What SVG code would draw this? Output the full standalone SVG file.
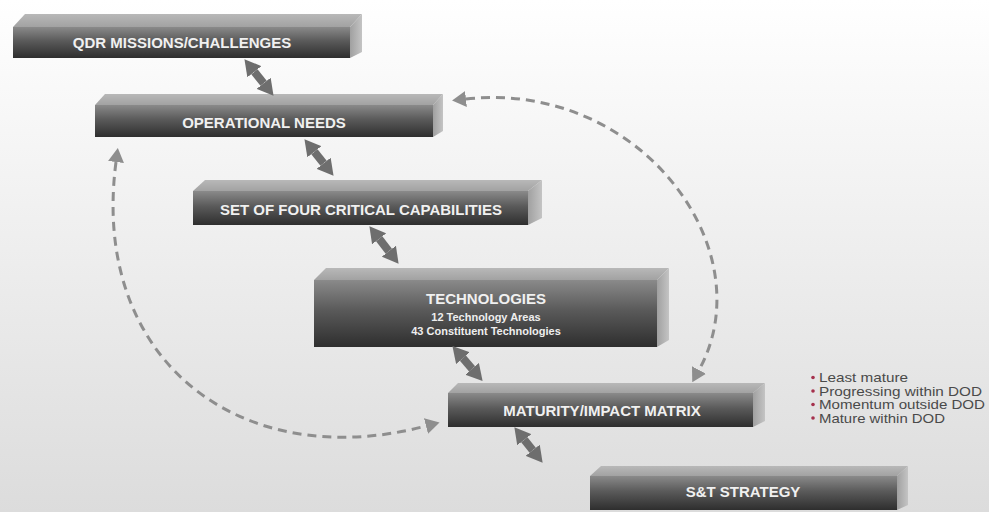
<svg xmlns="http://www.w3.org/2000/svg" width="989" height="512" viewBox="0 0 989 512">
<style>
.front{fill:url(#gFront)}
.top{fill:url(#gTop)}
.side{fill:url(#gSide)}
.lbl{font-family:"Liberation Sans",Arial,sans-serif;font-weight:bold;font-size:15px;fill:#f0f0f0;text-anchor:middle}
.sub{font-family:"Liberation Sans",Arial,sans-serif;font-weight:bold;font-size:11px;fill:#eeeeee;text-anchor:middle}
.bul{font-family:"Liberation Sans",Arial,sans-serif;font-size:13px;fill:#4a4a4a}
.dot{fill:#a5304c}
.dbl{stroke:#6e6e6e;stroke-width:8;fill:none}
.dash{stroke:#8e8e8e;stroke-width:3;fill:none;stroke-dasharray:9 6}
</style>
<defs>
<linearGradient id="bg" x1="0" y1="0" x2="0" y2="1">
<stop offset="0" stop-color="#ffffff"/>
<stop offset="1" stop-color="#dcdcdc"/>
</linearGradient>
<linearGradient id="gFront" x1="0" y1="0" x2="0" y2="1">
<stop offset="0" stop-color="#8a8a8a"/>
<stop offset="0.45" stop-color="#5a5a5a"/>
<stop offset="1" stop-color="#2e2e2e"/>
</linearGradient>
<linearGradient id="gTop" x1="0" y1="0" x2="0" y2="1">
<stop offset="0" stop-color="#b8b8b8"/>
<stop offset="1" stop-color="#a2a2a2"/>
</linearGradient>
<linearGradient id="gSide" x1="0" y1="0" x2="1" y2="0">
<stop offset="0" stop-color="#a0a0a0"/>
<stop offset="1" stop-color="#c4c4c4"/>
</linearGradient>
<marker id="hd" viewBox="0 0 16 18" refX="0" refY="9" markerWidth="16" markerHeight="18" markerUnits="userSpaceOnUse" orient="auto-start-reverse">
<path d="M0,0 L16,9 L0,18 Z" fill="#6e6e6e"/>
</marker>
<marker id="hdd" viewBox="0 0 14 16" refX="0" refY="8" markerWidth="14" markerHeight="16" markerUnits="userSpaceOnUse" orient="auto-start-reverse">
<path d="M0,0 L14,8 L0,16 Z" fill="#8e8e8e"/>
</marker>
</defs>
<rect x="0" y="0" width="989" height="512" fill="url(#bg)"/>

<g id="node-qdr">
<path class="top" d="M13,27 L25,14 L362,14 L350,27 Z"/>
<path class="side" d="M350,27 L362,14 L362,52 L350,58 Z"/>
<rect class="front" x="13" y="27" width="337" height="31"/>
<text class="lbl" x="182" y="47.5">QDR MISSIONS/CHALLENGES</text>
</g>

<g id="node-ops">
<path class="top" d="M95,105 L105,94 L443,94 L433,105 Z"/>
<path class="side" d="M433,105 L443,94 L443,131 L433,137 Z"/>
<rect class="front" x="95" y="105" width="338" height="32"/>
<text class="lbl" x="264" y="127.5">OPERATIONAL NEEDS</text>
</g>

<g id="node-set">
<path class="top" d="M193,191 L205,180 L542,180 L528,191 Z"/>
<path class="side" d="M528,191 L542,180 L542,218 L528,225 Z"/>
<rect class="front" x="193" y="191" width="335" height="34"/>
<text class="lbl" x="361" y="214.5">SET OF FOUR CRITICAL CAPABILITIES</text>
</g>

<g id="node-tech">
<path class="top" d="M314,280 L326,268 L669,268 L657,280 Z"/>
<path class="side" d="M657,280 L669,268 L669,340 L657,347 Z"/>
<rect class="front" x="314" y="280" width="343" height="67"/>
<text class="lbl" x="486" y="304">TECHNOLOGIES</text>
<text class="sub" x="486" y="321">12 Technology Areas</text>
<text class="sub" x="486" y="335">43 Constituent Technologies</text>
</g>

<g id="node-matrix">
<path class="top" d="M448,393 L458,383 L765,383 L753,393 Z"/>
<path class="side" d="M753,393 L765,383 L765,421 L753,427 Z"/>
<rect class="front" x="448" y="393" width="305" height="34"/>
<text class="lbl" x="602" y="415.5">MATURITY/IMPACT MATRIX</text>
</g>

<g id="node-legend">
<circle class="dot" cx="813" cy="377.5" r="1.8"/>
<text class="bul" x="819" y="382" textLength="89" lengthAdjust="spacingAndGlyphs">Least mature</text>
<circle class="dot" cx="813" cy="391" r="1.8"/>
<text class="bul" x="819" y="395.5" textLength="163" lengthAdjust="spacingAndGlyphs">Progressing within DOD</text>
<circle class="dot" cx="813" cy="404.5" r="1.8"/>
<text class="bul" x="819" y="409" textLength="166" lengthAdjust="spacingAndGlyphs">Momentum outside DOD</text>
<circle class="dot" cx="813" cy="418" r="1.8"/>
<text class="bul" x="819" y="422.5" textLength="126" lengthAdjust="spacingAndGlyphs">Mature within DOD</text>
</g>

<g id="node-st">
<path class="top" d="M590,476 L601,466 L908,466 L897,476 Z"/>
<path class="side" d="M897,476 L908,466 L908,505 L897,510 Z"/>
<rect class="front" x="590" y="476" width="307" height="34"/>
<text class="lbl" x="743" y="497">S&amp;T STRATEGY</text>
</g>

<g id="connectors">
<line class="dbl" x1="254.4" y1="71.7" x2="263.6" y2="83.3" marker-start="url(#hd)" marker-end="url(#hd)"/>
<line class="dbl" x1="314.4" y1="151.7" x2="323.6" y2="163.3" marker-start="url(#hd)" marker-end="url(#hd)"/>
<line class="dbl" x1="379.2" y1="238.8" x2="388.8" y2="251.2" marker-start="url(#hd)" marker-end="url(#hd)"/>
<line class="dbl" x1="462.9" y1="358.2" x2="472.1" y2="368.8" marker-start="url(#hd)" marker-end="url(#hd)"/>
<line class="dbl" x1="524.3" y1="439.7" x2="532.7" y2="450.3" marker-start="url(#hd)" marker-end="url(#hd)"/>
<path class="dash" d="M466,99 C640,80 765,250 699,370" marker-start="url(#hdd)" marker-end="url(#hdd)"/>
<path class="dash" d="M116,162 C90,360 240,475 426,426" marker-start="url(#hdd)" marker-end="url(#hdd)"/>
</g>
</svg>
